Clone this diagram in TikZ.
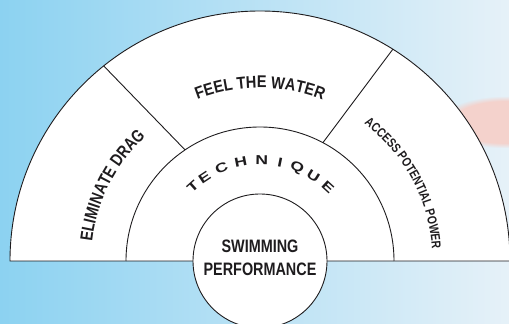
\documentclass[tikz,border=0pt]{standalone}
\usepackage{fontspec}
\setmainfont{Liberation Sans}
\newfontfamily\condA{Liberation Sans}[FakeStretch=0.86]
\newfontfamily\condB{Liberation Sans}[FakeStretch=0.80]
\newfontfamily\wideT{Liberation Sans}[FakeStretch=1.35]
\usetikzlibrary{decorations.text,fadings}
\definecolor{bgleft}{RGB}{140,210,241}
\definecolor{bgright}{RGB}{230,241,248}
\definecolor{pinkish}{RGB}{244,210,204}
\definecolor{ink}{RGB}{30,28,30}
\newcommand\fwfont{\condA\bfseries\fontsize{17}{20}\selectfont}
\newcommand\edfont{\condB\bfseries\fontsize{17.5}{20}\selectfont}
\newcommand\apfont{\condB\bfseries\fontsize{13}{15}\selectfont}
\begin{document}
\begin{tikzpicture}[x=1pt,y=1pt,
  outline/.style={draw=ink, line width=0.9pt},
  techletter/.style={font=\wideT\bfseries\fontsize{13}{14}\selectfont, inner sep=0pt, text=ink},
  arctext/.style={decorate, decoration={text along path, text align=center, text color=ink, text={#1}}}]
\useasboundingbox (0,0) rectangle (509,324);
\clip (0,0) rectangle (509,324);
% background
\shade[left color=bgleft, right color=bgright] (0,0) rectangle (509,324);
\fill[pinkish, path fading=circle with fuzzy edge 20 percent] (440,176) rectangle (570,228);
\coordinate (C) at (260,63);
% outer half disc
\filldraw[outline, fill=white] (C) ++(180:250) arc[start angle=180, end angle=0, radius=250] -- cycle;
% middle arc
\draw[outline] (C) ++(180:134) arc[start angle=180, end angle=0, radius=134];
% dividers
\coordinate (d1o) at ([shift={(128.7:250)}]C);
\coordinate (d1i) at ([shift={(124:134)}]C);
\coordinate (d2o) at ([shift={(57.9:250)}]C);
\coordinate (d2i) at ([shift={(62:134)}]C);
\draw[outline] (d1o) -- (d1i);
\draw[outline] (d2o) -- (d2i);
% core circle
\node[circle, outline, fill=white, minimum size=134pt, inner sep=0pt] (core) at (C) {};
\node[font=\condB\bfseries\fontsize{18}{23.4}\selectfont, align=center, inner sep=0pt, text=ink] (perf) at (260,66) {SWIMMING\\PERFORMANCE};
% TECHNIQUE
\foreach \ch/\ang [count=\i] in {T/132, E/123.5, C/112.5, H/101, N/89, I/78.5, Q/68.5, U/58, E/47.5}
  \node[techletter, rotate=\ang-90] (tech\i) at ([shift={(\ang:100.5)}]C) {\ch};
% outer ring labels
\path[arctext={|\fwfont|FEEL THE WATER}] ([shift={(150:173)}]C) arc[start angle=150, end angle=30, radius=173];
\path[arctext={|\edfont|ELIMINATE DRAG}] ([shift={(183:169)}]C) arc[start angle=183, end angle=123, radius=169];
\path[arctext={|\apfont|ACCESS POTENTIAL POWER}] ([shift={(58.4:172.5)}]C) arc[start angle=58.4, end angle=-1.6, radius=172.5];
\end{tikzpicture}
\end{document}
